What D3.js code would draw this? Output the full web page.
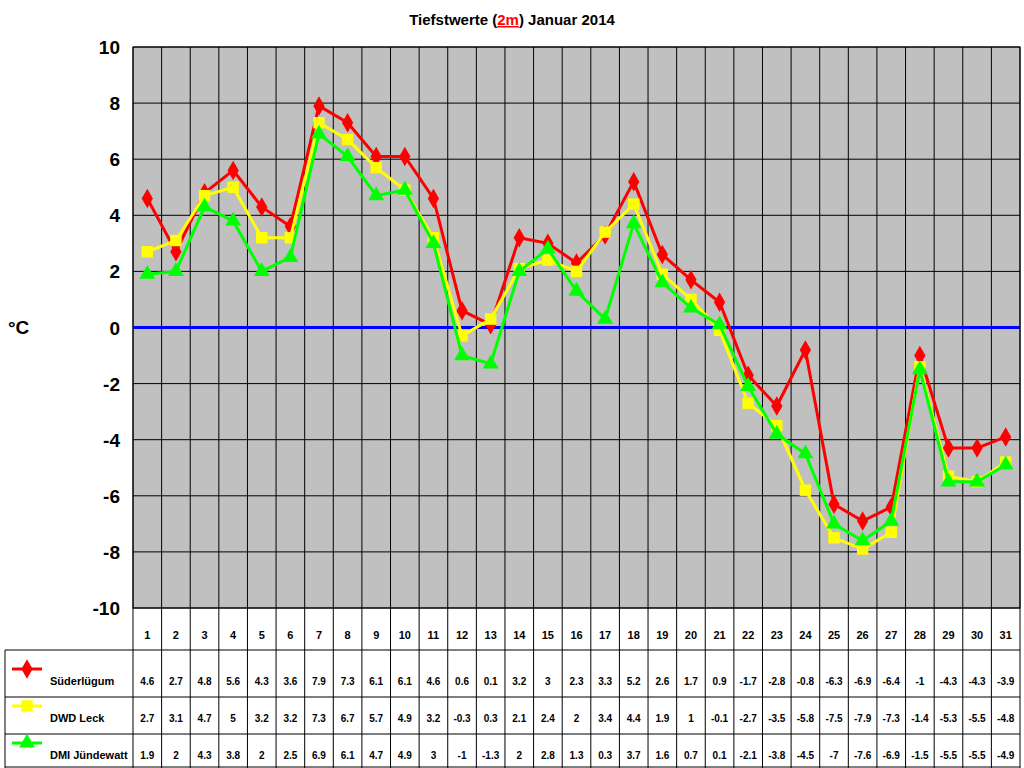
<!DOCTYPE html>
<html><head><meta charset="utf-8">
<script src="https://cdn.jsdelivr.net/npm/d3@7"></script>
<style>body{margin:0;background:#fff}text{font-family:Arial,"Liberation Sans",sans-serif}</style>
</head><body><svg id="c" width="1024" height="768"></svg>
<script>
const days = d3.range(1, 32)
const suederluegum = [4.6,2.7,4.8,5.6,4.3,3.6,7.9,7.3,6.1,6.1,4.6,0.6,0.1,3.2,3,2.3,3.3,5.2,2.6,1.7,0.9,-1.7,-2.8,-0.8,-6.3,-6.9,-6.4,-1,-4.3,-4.3,-3.9]
const dwdLeck = [2.7,3.1,4.7,5,3.2,3.2,7.3,6.7,5.7,4.9,3.2,-0.3,0.3,2.1,2.4,2,3.4,4.4,1.9,1,-0.1,-2.7,-3.5,-5.8,-7.5,-7.9,-7.3,-1.4,-5.3,-5.5,-4.8]
const dmiJuendewatt = [1.9,2,4.3,3.8,2,2.5,6.9,6.1,4.7,4.9,3,-1,-1.3,2,2.8,1.3,0.3,3.7,1.6,0.7,0.1,-2.1,-3.8,-4.5,-7,-7.6,-6.9,-1.5,-5.5,-5.5,-4.9]
const yTicks = d3.range(-10, 11, 2)
const series = [
  {name: 'Süderlügum', values: suederluegum, color: '#ff0000', shape: d3.symbolDiamond},
  {name: 'DWD Leck', values: dwdLeck, color: '#ffff00', shape: d3.symbolSquare},
  {name: 'DMI Jündewatt', values: dmiJuendewatt, color: '#00ff00', shape: d3.symbolTriangle}
]

const svg = d3.select('#c')
const pLeft = 133, pRight = 1020, pTop = 47, pBottom = 608
const x = d3.scaleBand().domain(days).range([pLeft, pRight])
const y = d3.scaleLinear().domain([-10, 10]).range([pBottom, pTop])

// title
const t = svg.append('text').attr('x', 512).attr('y', 25).attr('text-anchor', 'middle')
  .attr('font-size', 15).attr('font-weight', 'bold')
t.append('tspan').text('Tiefstwerte (')
t.append('tspan').text('2m').attr('fill', '#ff0000').attr('text-decoration', 'underline')
t.append('tspan').text(') Januar 2014')

// plot background
svg.append('rect').attr('x', pLeft).attr('y', pTop).attr('width', pRight - pLeft).attr('height', pBottom - pTop)
  .attr('fill', '#c0c0c0').attr('stroke', '#000')

svg.append('g').selectAll('line').data(yTicks).join('line')
  .attr('x1', pLeft).attr('x2', pRight).attr('y1', d => y(d)).attr('y2', d => y(d))
  .attr('stroke', '#000').attr('stroke-width', 1)
svg.append('g').selectAll('line').data(days).join('line')
  .attr('x1', d => x(d)).attr('x2', d => x(d)).attr('y1', pTop).attr('y2', 768)
  .attr('stroke', '#000')
svg.append('line').attr('x1', pRight).attr('x2', pRight).attr('y1', pTop).attr('y2', 768).attr('stroke', '#000')

// zero line
svg.append('line').attr('x1', pLeft).attr('x2', pRight).attr('y1', y(0)).attr('y2', y(0))
  .attr('stroke', '#0000ff').attr('stroke-width', 3)

// y axis labels
svg.append('g').selectAll('text').data(yTicks).join('text')
  .attr('x', 120).attr('y', d => y(d) + 7).attr('text-anchor', 'end')
  .attr('font-size', 19).attr('font-weight', 'bold').text(d => d)
svg.append('text').attr('x', 8).attr('y', 334).attr('font-size', 19).attr('font-weight', 'bold').text('°C')

// series
const cx = d => x(d) + x.bandwidth() / 2
series.forEach(s => {
  const line = d3.line().x((v, i) => cx(days[i])).y(v => y(v))
  svg.append('path').attr('d', line(s.values)).attr('fill', 'none')
    .attr('stroke', s.color).attr('stroke-width', 3)
  svg.append('g').selectAll('path').data(s.values).join('path')
    .attr('transform', (v, i) => `translate(${cx(days[i])},${y(v)})`)
    .attr('d', d3.symbol().type(s.shape).size(s.shape === d3.symbolSquare ? 130 : 110))
    .attr('fill', s.color)
})

// table
const rowY = [635, 681, 718, 755]
svg.append('g').selectAll('text').data(days).join('text')
  .attr('x', d => cx(d)).attr('y', rowY[0] + 4).attr('text-anchor', 'middle')
  .attr('font-size', 11).attr('font-weight', 'bold').text(d => d)
const rowTop = [650, 697, 734]
svg.append('line').attr('x1', 5).attr('x2', pRight).attr('y1', 650).attr('y2', 650).attr('stroke', '#000')
svg.append('line').attr('x1', 5).attr('x2', pRight).attr('y1', 767).attr('y2', 767).attr('stroke', '#000')
svg.append('line').attr('x1', 5).attr('x2', 5).attr('y1', 650).attr('y2', 768).attr('stroke', '#000')
series.forEach((s, k) => {
  const ry = rowY[k + 1]
  if (k > 0) svg.append('line').attr('x1', 5).attr('x2', pRight).attr('y1', rowTop[k]).attr('y2', rowTop[k]).attr('stroke', '#000')
  svg.append('line').attr('x1', 12).attr('x2', 42).attr('y1', ry - 12).attr('y2', ry - 12)
    .attr('stroke', s.color).attr('stroke-width', 3)
  svg.append('path').attr('transform', `translate(27,${ry - 12})`)
    .attr('d', d3.symbol().type(s.shape).size(s.shape === d3.symbolSquare ? 130 : 110)).attr('fill', s.color)
  svg.append('text').attr('x', 50).attr('y', ry + 4).attr('font-size', 11).attr('font-weight', 'bold').text(s.name)
  svg.append('g').selectAll('text').data(s.values).join('text')
    .attr('x', (v, i) => cx(days[i])).attr('y', ry + 4).attr('text-anchor', 'middle')
    .attr('font-size', 10).attr('font-weight', 'bold').text(v => v)
})
</script></body></html>
